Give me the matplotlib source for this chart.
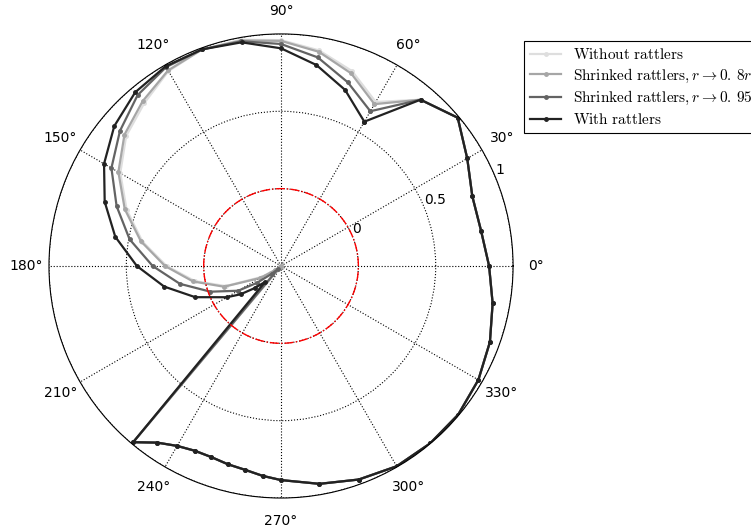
import numpy as np
import matplotlib
matplotlib.use('Agg')
from matplotlib import pyplot as plt

plt.rcParams['mathtext.fontset'] = 'cm'

# angles in degrees (irregular sampling near the jump)
theta_left = [60, 70, 80, 90, 100, 110, 120, 130, 140, 150, 160, 170,
              180, 190, 200, 210, 215, 220, 225]
theta_right = [230, 235, 240, 245, 250, 255, 260, 265, 270, 280, 290, 300,
               310, 320, 330, 340, 350, 360, 370, 380, 390, 400, 410]

# part shared by all four curves (230 deg -> 50 deg, via 0)
r_shared = [0.987, 0.894, 0.843, 0.818, 0.815, 0.827, 0.838, 0.862, 0.884,
            0.930, 0.969, 0.995, 0.998, 0.995, 0.973, 0.937, 0.889, 0.845,
            0.813, 0.816, 0.890, 0.991, 0.903]

r_without = [0.724, 0.841, 0.915, 0.960, 0.985, 0.990, 0.955, 0.875, 0.807,
             0.700, 0.562, 0.410, 0.240, 0.065, -0.120, -0.360, -0.460,
             -0.495, -0.500]
r_shrink08 = [0.708, 0.825, 0.906, 0.955, 0.980, 0.990, 0.960, 0.891, 0.821,
              0.714, 0.575, 0.420, 0.250, 0.077, -0.108, -0.345, -0.450,
              -0.490, -0.500]
r_shrink095 = [0.655, 0.763, 0.869, 0.935, 0.975, 0.990, 0.985, 0.942, 0.859,
               0.766, 0.631, 0.494, 0.330, 0.164, -0.014, -0.180, -0.310,
               -0.420, -0.470]
r_with = [0.577, 0.711, 0.819, 0.907, 0.968, 0.990, 0.991, 0.966, 0.907,
          0.821, 0.713, 0.588, 0.432, 0.267, 0.090, -0.096, -0.181,
          -0.278, -0.355]

labels = [r'$\mathrm{Without\ rattlers}$',
          r'$\mathrm{Shrinked\ rattlers,}r\rightarrow 0.\,8r$',
          r'$\mathrm{Shrinked\ rattlers,}r\rightarrow 0.\,95r$',
          r'$\mathrm{With\ rattlers}$']
colors = ['#dedede', '#a6a6a6', '#636363', '#222222']

# closed curve: back to the first point at the end
theta_deg = theta_left + theta_right + [theta_left[0] + 360]
theta = np.radians(theta_deg)

fig = plt.figure(figsize=(7.51, 5.31), dpi=100)
ax = fig.add_axes([0.0652, 0.0621, 0.618, 0.874], projection='polar')

for r_part, c, lab in zip([r_without, r_shrink08, r_shrink095, r_with], colors, labels):
    r = r_part + r_shared + [r_part[0]]
    ax.plot(theta, r, c=c, lw=1.6, marker='.', ms=5, label=lab)

# zero circle
circ = np.linspace(0, 2 * np.pi, 400)
ax.plot(circ, np.zeros_like(circ), c='red', ls='-.', lw=1)

ax.set_ylim(-0.5, 1)
ax.set_rticks([0, 0.5, 1])
ax.set_yticklabels(['0', '0.5', '1'])
ax.set_thetagrids(np.arange(0, 360, 30))
ax.grid(True, color='black', ls=':', lw=0.8)
ax.tick_params(axis='both', which='major', labelsize=10, pad=6)

leg = fig.legend(loc='upper left', bbox_to_anchor=(0.698, 0.923), fontsize=11,
                 fancybox=False, framealpha=1, edgecolor='black',
                 borderaxespad=0, labelspacing=0.3)
leg.get_frame().set_linewidth(0.8)

plt.savefig('out.png', dpi=100)
